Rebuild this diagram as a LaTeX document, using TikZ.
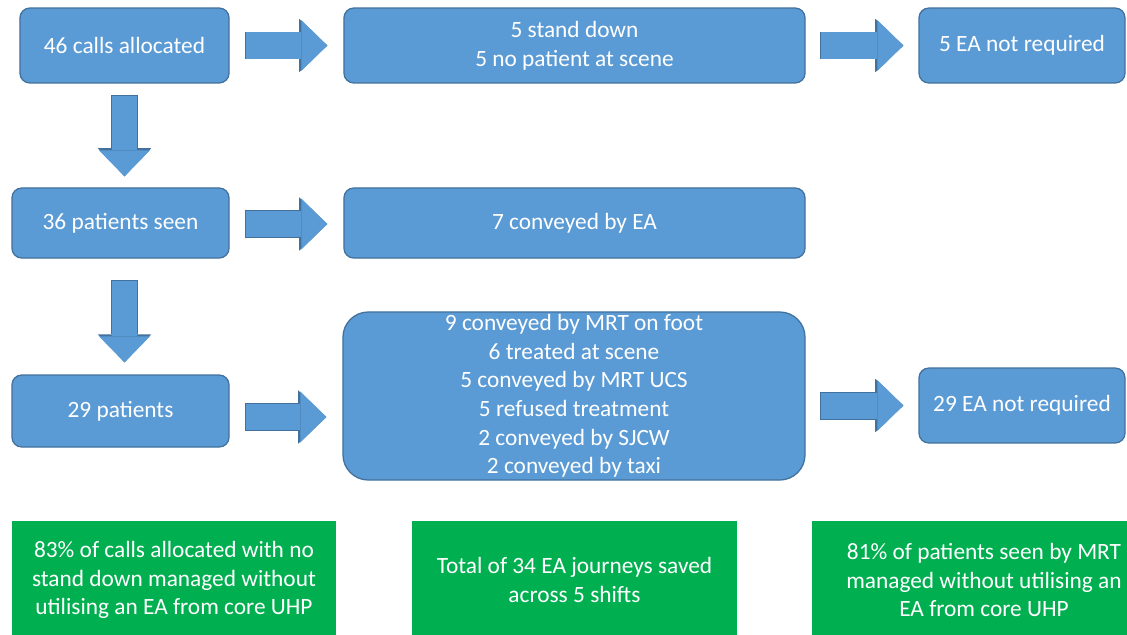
\documentclass[tikz,border=0pt]{standalone}
\usepackage{fontspec}
\setmainfont{Carlito}
\usetikzlibrary{arrows.meta,calc}
\definecolor{boxblue}{HTML}{5B9BD5}
\definecolor{edgeblue}{HTML}{41719C}
\definecolor{sumgreen}{HTML}{00B050}
\newcommand{\flowfont}{\fontsize{16.6pt}{20.3pt}\selectfont}
\tikzset{
  flow/.style={rectangle, rounded corners=7pt, fill=boxblue, draw=edgeblue,
    line width=0.9pt, text=white, align=center, inner sep=0pt, font=\flowfont},
  summary/.style={rectangle, fill=sumgreen, text=white, align=center,
    inner sep=0pt, font=\flowfont, minimum height=83.9pt},
  blockarrow/.style={draw=boxblue, line width=#1,
    preaction={draw=edgeblue, line width=#1+1.4pt, shorten <=-0.7pt,
      -{Triangle[width=38pt,length=20pt,line width=0pt]}},
    -{Triangle[width=36.3pt,length=18.5pt,line width=0pt]}},
  blockarrow/.default=18.5pt
}

\begin{document}
\begin{tikzpicture}[x=0.025cm, y=-0.025cm]
\clip (0,0) rectangle (1127,634);
\fill[white] (0,0) rectangle (1127,634);
% nodes

\node[flow, minimum width=148.7pt, minimum height=53.3pt] (calls) at (124.5,45.5) {46 calls allocated};
\node[flow, minimum width=327.9pt, minimum height=53.3pt] (standdown) at (574.5,45.5) {5 stand down\\5 no patient at scene};
\node[flow, minimum width=146.5pt, minimum height=53.3pt] (notreqa) at (1022,45.5) {5 EA not required};

\node[flow, minimum width=154.4pt, minimum height=49.8pt] (seen) at (120.5,223) {36 patients seen};
\node[flow, minimum width=327.9pt, minimum height=49.8pt] (convea) at (574.5,223) {7 conveyed by EA};

\node[flow, minimum width=154.4pt, minimum height=51.2pt] (patients) at (120.5,411) {29 patients};
\node[flow, rounded corners=18pt, minimum width=328.6pt, minimum height=119.5pt] (outcomes) at (574,396)
  {9 conveyed by MRT on foot\\6 treated at scene\\5 conveyed by MRT UCS\\5 refused treatment\\2 conveyed by SJCW\\2 conveyed by taxi};
\node[flow, minimum width=146.5pt, minimum height=53.3pt] (notreqb) at (1022,405.5) {29 EA not required};

\node[summary, minimum width=230.5pt] (sumcalls) at (174,580) {83\% of calls allocated with no\\stand down managed without\\utilising an EA from core UHP};
\node[summary, minimum width=230.5pt] (sumjourneys) at (574.5,580) {Total of 34 EA journeys saved\\across 5 shifts};
\node[summary, minimum width=244.7pt] (sumpatients) at (984,580) {81\% of patients seen by MRT\\managed without utilising an\\EA from core UHP};

% arrows
\draw[blockarrow] ($(calls.east)+(16,0)$) -- ($(standdown.west)+(-16,0)$);
\draw[blockarrow] ($(standdown.east)+(15,0)$) -- ($(notreqa.west)+(-15,0)$);
\draw[blockarrow] ($(seen.east)+(16,1)$) -- ($(convea.west)+(-16,1)$);
\draw[blockarrow] ($(patients.east)+(16,6)$) -- ($(patients.east -| outcomes.west)+(-16,6)$);
\draw[blockarrow] ($(outcomes.east |- notreqb.west)+(15,0)$) -- ($(notreqb.west)+(-15,0)$);

\draw[blockarrow=17.3pt] ($(calls.south)+(0,12)$) -- ($(calls.south |- seen.north)+(0,-11)$);
\draw[blockarrow=17.3pt] ($(seen.south)+(4,22)$) -- ($(seen.south |- patients.north)+(4,-12)$);
\end{tikzpicture}
\end{document}
